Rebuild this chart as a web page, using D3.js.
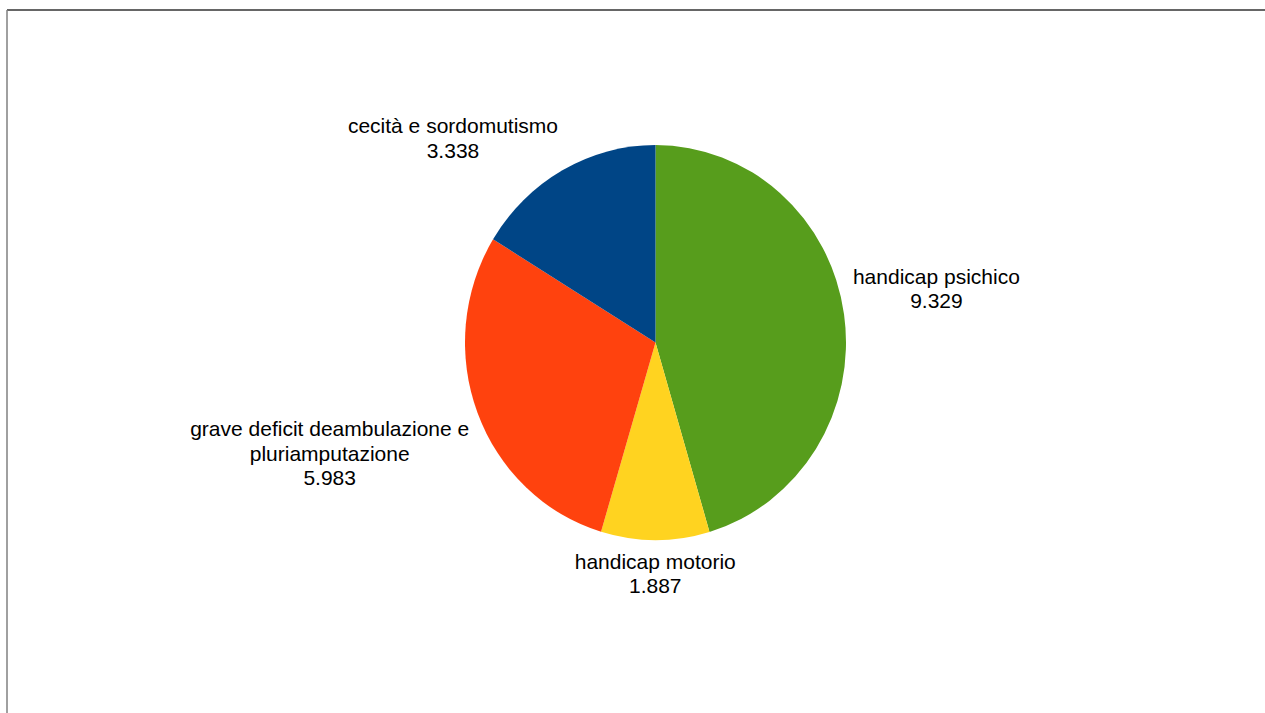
<!DOCTYPE html>
<html>
<head>
<meta charset="utf-8">
<script src="https://cdn.jsdelivr.net/npm/d3@7.9.0/dist/d3.min.js"></script>
<style>
  body { margin: 0; background: #fff; }
  svg { display: block; }
</style>
</head>
<body>
<svg width="1265" height="713"></svg>
<script>
// data, in drawing order (clockwise from 12 o'clock)
const labels = ['handicap psichico', 'handicap motorio', 'grave deficit deambulazione e|pluriamputazione', 'cecità e sordomutismo'];
const values = [9.329, 1.887, 5.983, 3.338];
const valueText = ['9.329', '1.887', '5.983', '3.338'];
const sliceColors = ['#579d1c', '#ffd320', '#ff420e', '#004586'];

const svg = d3.select('svg');

// frame
svg.append('line').attr('x1', 7).attr('y1', 10).attr('x2', 1265).attr('y2', 10)
  .attr('stroke', '#333').attr('stroke-width', 1.5);
svg.append('line').attr('x1', 7).attr('y1', 10).attr('x2', 7).attr('y2', 713)
  .attr('stroke', '#808080').attr('stroke-width', 1.5);

// the pie in the picture is a touch taller than wide
const cx = 655.5, cy = 342.5, rx = 190.5, ry = 197.5;
const g = svg.append('g').attr('transform', `translate(${cx},${cy})`);

const data = values.map((v, i) => ({ value: v, label: labels[i], text: valueText[i], color: sliceColors[i] }));
const pie = d3.pie().value(d => d.value).sort(null);
const arc = d3.arc().innerRadius(0).outerRadius(rx);
const arcs = pie(data);

g.append('g').attr('transform', `scale(1,${ry / rx})`)
  .selectAll('path').data(arcs).join('path')
  .attr('d', arc)
  .attr('fill', d => d.data.color);

// labels: anchor a corner of the text box to a point just outside the rim
const fontSize = 21;
const lineH = 24.5;
const offset = 9;
arcs.forEach(d => {
  const a = (d.startAngle + d.endAngle) / 2;
  const s = Math.sin(a), c = Math.cos(a);
  const px = (rx + offset) * s;
  const py = -(ry + offset) * c;
  const lines = d.data.label.split('|').concat([d.data.text]);
  const h = lines.length * lineH;
  let anchor = 'middle';
  if (s > 0.1) anchor = 'start';
  else if (s < -0.1) anchor = 'end';
  let top;
  if (c > 0.1) top = py - h;
  else if (c < -0.1) top = py;
  else top = py - h / 2;

  // multi-line block is centred on its widest line
  const t = g.append('text')
    .attr('font-family', '"Liberation Sans", Arial, sans-serif')
    .attr('font-size', fontSize)
    .attr('fill', '#000');
  lines.forEach((ln, i) => {
    t.append('tspan')
      .attr('x', 0)
      .attr('y', top + i * lineH + lineH / 2)
      .attr('dominant-baseline', 'central')
      .attr('text-anchor', 'middle')
      .text(ln);
  });
  const w = t.node().getBBox().width;
  let bx = px;
  if (anchor === 'start') bx = px + w / 2;
  else if (anchor === 'end') bx = px - w / 2;
  t.selectAll('tspan').attr('x', bx);
});
</script>
</body>
</html>
